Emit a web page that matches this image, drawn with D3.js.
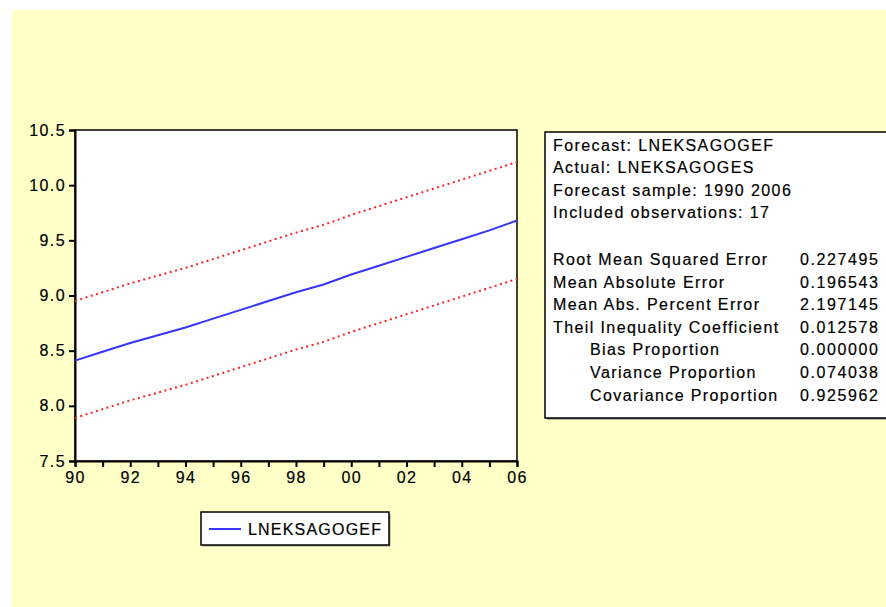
<!DOCTYPE html>
<html>
<head>
<meta charset="utf-8">
<script src="https://cdn.jsdelivr.net/npm/d3@7"></script>
<style>
  body { margin: 0; background: #fff; }
  text { font-family: "Liberation Sans", Arial, sans-serif; fill: #000; stroke: #000; stroke-width: 0.2px; }
</style>
</head>
<body>
<div id="chart"></div>
<script>
const width = 886,
    height = 607;

// forecast years and series
var years = [1990, 1991, 1992, 1993, 1994, 1995, 1996, 1997, 1998, 1999, 2000, 2001, 2002, 2003, 2004, 2005, 2006];
var forecast = [8.41, 8.49, 8.57, 8.64, 8.71, 8.79, 8.87, 8.95, 9.03, 9.10, 9.19, 9.27, 9.35, 9.43, 9.51, 9.59, 9.68];
var upper = [8.95, 9.03, 9.11, 9.18, 9.25, 9.33, 9.41, 9.49, 9.57, 9.64, 9.73, 9.81, 9.89, 9.97, 10.05, 10.13, 10.21];
var lower = [7.89, 7.97, 8.05, 8.12, 8.19, 8.27, 8.35, 8.43, 8.51, 8.58, 8.67, 8.75, 8.83, 8.91, 8.99, 9.07, 9.15];

var yTicks = [7.5, 8.0, 8.5, 9.0, 9.5, 10.0, 10.5];
var seriesName = "LNEKSAGOGEF";

// stats table
var headerLines = ["Forecast: LNEKSAGOGEF", "Actual: LNEKSAGOGES", "Forecast sample: 1990 2006", "Included observations: 17"];
var statLabels = ["Root Mean Squared Error", "Mean Absolute Error", "Mean Abs. Percent Error", "Theil Inequality Coefficient",
                  "Bias Proportion", "Variance Proportion", "Covariance Proportion"];
var statValues = ["0.227495", "0.196543", "2.197145", "0.012578", "0.000000", "0.074038", "0.925962"];
var statIndent = [false, false, false, false, true, true, true];

var fontSize = 16,
    spacing = "1.4px";

var svg = d3.select("#chart").append("svg")
    .attr("width", width)
    .attr("height", height);

svg.append("rect")
    .attr("x", 12).attr("y", 10)
    .attr("width", width - 12).attr("height", height - 10)
    .attr("fill", "#ffffc8");

var plot = {left: 75, top: 130, right: 517, bottom: 461};

var x = d3.scaleLinear().domain([1990, 2006]).range([plot.left, plot.right]);
var y = d3.scaleLinear().domain([7.5, 10.5]).range([plot.bottom, plot.top]);

svg.append("rect")
    .attr("x", plot.left).attr("y", plot.top)
    .attr("width", plot.right - plot.left).attr("height", plot.bottom - plot.top)
    .attr("fill", "white")
    .attr("stroke", "#000")
    .attr("stroke-width", 1.5);

var yAxis = svg.append("g")
    .attr("transform", "translate(" + plot.left + ",0)")
    .call(d3.axisLeft(y).tickValues(yTicks).tickFormat(d3.format(".1f")).tickSize(6).tickPadding(3));

var xAxis = svg.append("g")
    .attr("transform", "translate(0," + plot.bottom + ")")
    .call(d3.axisBottom(x).tickValues(years)
        .tickFormat(d => d % 2 == 0 ? String(d).slice(2) : "")
        .tickSize(6).tickPadding(5));

[yAxis, xAxis].forEach(function (g) {
    g.select(".domain").attr("stroke-width", 2);
    g.selectAll(".tick line").attr("stroke-width", 2);
    g.selectAll("text")
        .attr("font-size", fontSize)
        .attr("letter-spacing", spacing)
        .attr("font-family", "Liberation Sans, Arial, sans-serif");
});

var line = d3.line()
    .x((d, i) => x(years[i]))
    .y(d => y(d));

svg.append("path")
    .datum(upper)
    .attr("fill", "none")
    .attr("stroke", "#ff2020")
    .attr("stroke-width", 2)
    .attr("stroke-dasharray", "2,3.5")
    .attr("d", line);

svg.append("path")
    .datum(lower)
    .attr("fill", "none")
    .attr("stroke", "#ff2020")
    .attr("stroke-width", 2)
    .attr("stroke-dasharray", "2,3.5")
    .attr("d", line);

svg.append("path")
    .datum(forecast)
    .attr("fill", "none")
    .attr("stroke", "#3535ff")
    .attr("stroke-width", 2)
    .attr("d", line);

// legend
var legend = svg.append("g").attr("transform", "translate(201,512)");
legend.append("rect")
    .attr("x", 1.5).attr("y", 1.5).attr("width", 188).attr("height", 33)
    .attr("fill", "#999");
legend.append("rect")
    .attr("width", 188).attr("height", 33)
    .attr("fill", "white").attr("stroke", "#000").attr("stroke-width", 1.5);
legend.append("line")
    .attr("x1", 8).attr("x2", 40).attr("y1", 17).attr("y2", 17)
    .attr("stroke", "#3535ff").attr("stroke-width", 2);
legend.append("text")
    .attr("x", 47).attr("y", 23)
    .attr("font-size", fontSize)
    .attr("letter-spacing", "1.2px")
    .text(seriesName);

// forecast evaluation box
var box = svg.append("g").attr("transform", "translate(545,132)");
box.append("rect")
    .attr("x", 1.5).attr("y", 1.5).attr("width", 360).attr("height", 286)
    .attr("fill", "#777");
box.append("rect")
    .attr("width", 360).attr("height", 286)
    .attr("fill", "white").attr("stroke", "#000").attr("stroke-width", 1.5);

box.selectAll("text.head")
    .data(headerLines)
    .join("text")
    .attr("class", "head")
    .attr("x", 8)
    .attr("y", (d, i) => 19 + i * 22.3)
    .attr("font-size", fontSize)
    .attr("letter-spacing", spacing)
    .text(d => d);

box.selectAll("text.lab")
    .data(statLabels)
    .join("text")
    .attr("class", "lab")
    .attr("x", (d, i) => statIndent[i] ? 45 : 8)
    .attr("y", (d, i) => 133 + i * 22.6)
    .attr("font-size", fontSize)
    .attr("letter-spacing", spacing)
    .text(d => d);

box.selectAll("text.val")
    .data(statValues)
    .join("text")
    .attr("class", "val")
    .attr("x", 255)
    .attr("y", (d, i) => 133 + i * 22.6)
    .attr("font-size", fontSize)
    .attr("letter-spacing", "1.6px")
    .text(d => d);
</script>
</body>
</html>
